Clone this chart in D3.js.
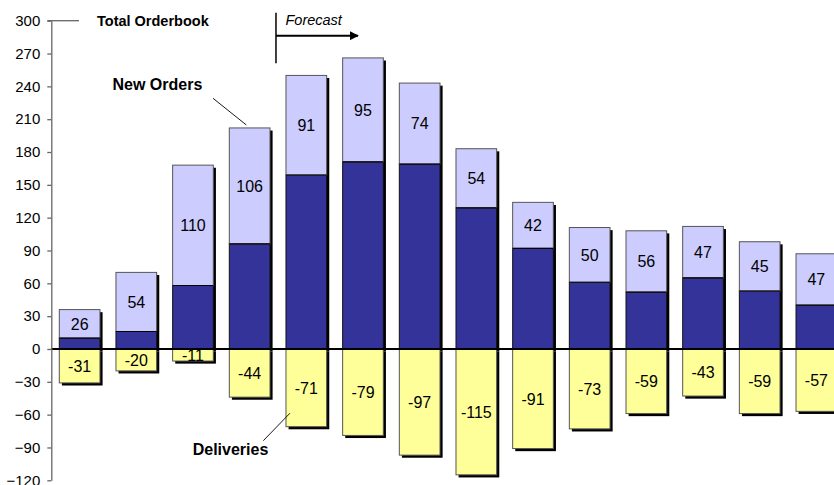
<!DOCTYPE html>
<html>
<head>
<meta charset="utf-8">
<script src="https://cdn.jsdelivr.net/npm/d3@7"></script>
<style>
  body { margin: 0; background: #fff; }
  svg { display: block; }
  text { font-family: "Liberation Sans", Arial, sans-serif; fill: #000; }
</style>
</head>
<body>
<svg id="chart" width="834" height="485"></svg>
<script>
// Orderbook development per period
const periods = [1, 2, 3, 4, 5, 6, 7, 8, 9, 10, 11, 12, 13, 14];
const remainingOrders = [10, 16, 58, 96, 159, 171, 169, 129, 92, 61, 52, 65, 53, 40];
const newOrders = [26, 54, 110, 106, 91, 95, 74, 54, 42, 50, 56, 47, 45, 47];
const deliveries = [-31, -20, -11, -44, -71, -79, -97, -115, -91, -73, -59, -43, -59, -57];
const yTicks = [-120, -90, -60, -30, 0, 30, 60, 90, 120, 150, 180, 210, 240, 270, 300];
const forecastFrom = 5;

const colors = { remaining: "#333399", added: "#CCCCFF", delivered: "#FFFF99", edge: "#555", shadow: "#000" };

const svg = d3.select("#chart");
const axisX = 51.3;

const x = d3.scaleBand()
  .domain(periods)
  .range([axisX, 844.7])
  .paddingInner(0.282)
  .paddingOuter(0.141);

const y = d3.scaleLinear().domain([-120, 300]).range([480.3, 20.7]);

const rows = periods.map((p, i) => ({
  period: p,
  base: remainingOrders[i],
  added: newOrders[i],
  total: remainingOrders[i] + newOrders[i],
  delivered: deliveries[i]
}));

const shadowOffset = 2.6;
const bw = x.bandwidth();

// drop shadows
const shadows = svg.append("g");
shadows.selectAll("rect.up").data(rows).join("rect")
  .attr("x", d => x(d.period) + shadowOffset)
  .attr("y", d => y(d.total) + shadowOffset)
  .attr("width", bw)
  .attr("height", d => y(0) - y(d.total))
  .attr("fill", colors.shadow);
shadows.selectAll("rect.down").data(rows).join("rect")
  .attr("x", d => x(d.period) + shadowOffset)
  .attr("y", y(0) + shadowOffset)
  .attr("width", bw)
  .attr("height", d => y(d.delivered) - y(0))
  .attr("fill", colors.shadow);

const bars = svg.append("g");
// deliveries below zero
bars.selectAll("rect.del").data(rows).join("rect")
  .attr("x", d => x(d.period))
  .attr("y", y(0))
  .attr("width", bw)
  .attr("height", d => y(d.delivered) - y(0))
  .attr("fill", colors.delivered)
  .attr("stroke", colors.edge)
  .attr("stroke-width", 1);
// remaining orderbook
bars.selectAll("rect.base").data(rows).join("rect")
  .attr("x", d => x(d.period))
  .attr("y", d => y(d.base))
  .attr("width", bw)
  .attr("height", d => y(0) - y(d.base))
  .attr("fill", colors.remaining)
  .attr("stroke", "#111")
  .attr("stroke-width", 1);
// new orders stacked on top
bars.selectAll("rect.new").data(rows).join("rect")
  .attr("x", d => x(d.period))
  .attr("y", d => y(d.total))
  .attr("width", bw)
  .attr("height", d => y(d.base) - y(d.total))
  .attr("fill", colors.added)
  .attr("stroke", colors.edge)
  .attr("stroke-width", 1);
// divider between remaining and new orders
bars.selectAll("line.div").data(rows).join("line")
  .attr("x1", d => x(d.period))
  .attr("x2", d => x(d.period) + bw)
  .attr("y1", d => y(d.base))
  .attr("y2", d => y(d.base))
  .attr("stroke", "#000")
  .attr("stroke-width", 1.2);

// value labels
const labels = svg.append("g").attr("text-anchor", "middle").style("font-size", "16px");
labels.selectAll("text.new").data(rows).join("text")
  .attr("x", d => x(d.period) + bw / 2)
  .attr("y", d => (y(d.total) + y(d.base)) / 2)
  .attr("dy", "0.36em")
  .text(d => d.added);
labels.selectAll("text.del").data(rows).join("text")
  .attr("x", d => x(d.period) + bw / 2)
  .attr("y", d => (y(0) + y(d.delivered)) / 2)
  .attr("dy", "0.36em")
  .text(d => d.delivered);

// zero line
svg.append("line")
  .attr("x1", axisX).attr("x2", 834)
  .attr("y1", y(0)).attr("y2", y(0))
  .attr("stroke", "#000").attr("stroke-width", 2.2);

// y axis
const axis = svg.append("g")
  .attr("transform", `translate(${axisX},0)`)
  .call(d3.axisLeft(y).tickValues(yTicks).tickSize(4).tickSizeOuter(0).tickPadding(7));
axis.select(".domain").attr("stroke", "#666").attr("stroke-width", 1.3);
axis.selectAll(".tick line").attr("stroke", "#666").attr("stroke-width", 1.3);
axis.selectAll(".tick text")
  .style("font-family", "'Liberation Sans', Arial, sans-serif")
  .style("font-size", "15px")
  .attr("fill", "#000");

// total orderbook annotation on the top tick
svg.append("line")
  .attr("x1", axisX - 4).attr("x2", 79)
  .attr("y1", y(300)).attr("y2", y(300))
  .attr("stroke", "#666").attr("stroke-width", 1.3);
svg.append("text")
  .attr("x", 97).attr("y", y(300) + 5.3)
  .style("font-size", "14.5px").style("font-weight", "bold")
  .text("Total Orderbook");

// forecast marker
const fx = x(forecastFrom) - (x.step() - bw) / 2 - 2;
const defs = svg.append("defs");
defs.append("marker")
  .attr("id", "arrow").attr("viewBox", "0 0 10 10")
  .attr("refX", 9).attr("refY", 5)
  .attr("markerWidth", 4.5).attr("markerHeight", 4.5)
  .attr("markerUnits", "strokeWidth")
  .attr("orient", "auto")
  .append("path").attr("d", "M0,0 L10,5 L0,10 Z").attr("fill", "#000");
svg.append("line")
  .attr("x1", fx).attr("x2", fx).attr("y1", 12.7).attr("y2", 63.3)
  .attr("stroke", "#000").attr("stroke-width", 1.5);
svg.append("line")
  .attr("x1", fx).attr("x2", fx + 82).attr("y1", 35.7).attr("y2", 35.7)
  .attr("stroke", "#000").attr("stroke-width", 2)
  .attr("marker-end", "url(#arrow)");
svg.append("text")
  .attr("x", fx + 9.5).attr("y", 25)
  .style("font-size", "14.5px").style("font-style", "italic")
  .text("Forecast");

// series call-outs
const r4 = rows[3], r5 = rows[4];
svg.append("line")
  .attr("x1", 213).attr("y1", 98.3)
  .attr("x2", x(r4.period) + 17).attr("y2", y(r4.total) - 3)
  .attr("stroke", "#000").attr("stroke-width", 0.9);
svg.append("text")
  .attr("x", 112.5).attr("y", 90)
  .style("font-size", "16px").style("font-weight", "bold")
  .text("New Orders");

svg.append("line")
  .attr("x1", 263.3).attr("y1", 440.7)
  .attr("x2", x(r5.period) + 4).attr("y2", y(r5.delivered) - 13.5)
  .attr("stroke", "#000").attr("stroke-width", 0.9);
svg.append("text")
  .attr("x", 192.7).attr("y", 455)
  .style("font-size", "16px").style("font-weight", "bold")
  .text("Deliveries");
</script>
</body>
</html>
